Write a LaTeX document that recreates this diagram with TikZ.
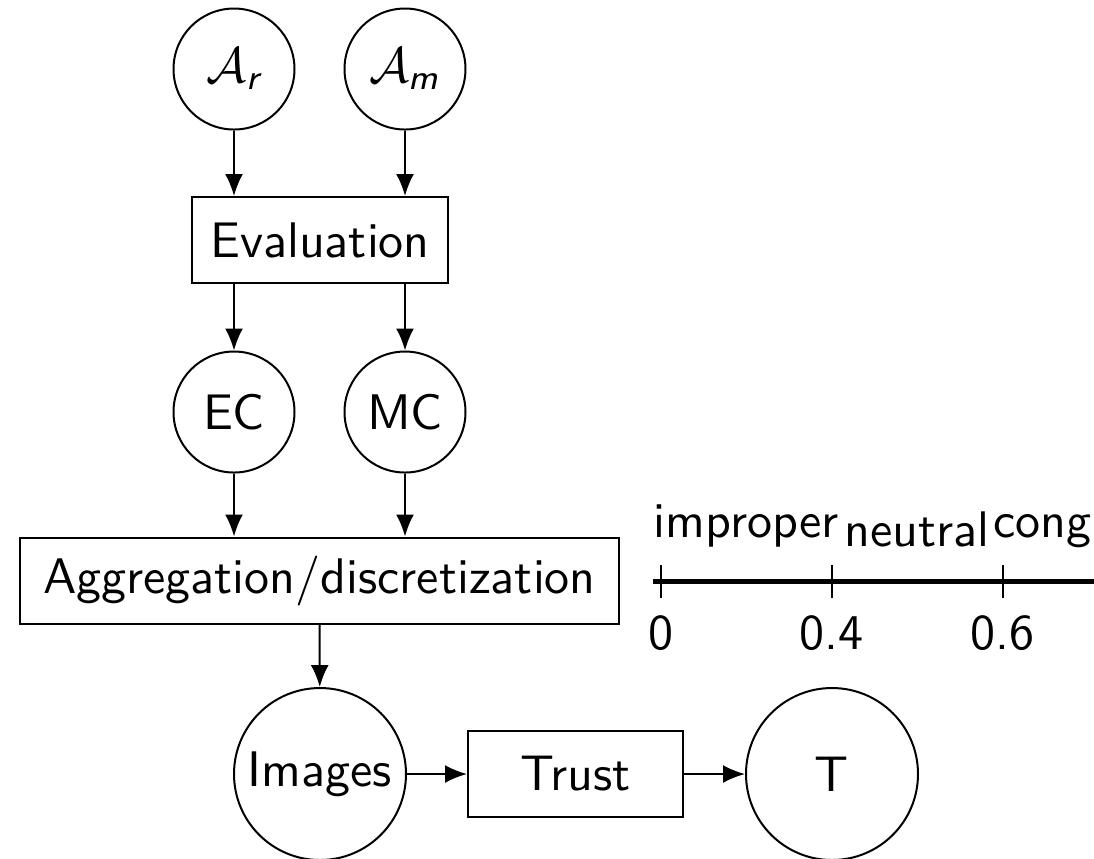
\documentclass[tikz,border=0pt]{standalone}
\usepackage{amsmath}
\usetikzlibrary{arrows.meta,calc}
\begin{document}
\begin{tikzpicture}[x=0.2pt,y=-0.2pt,
  font=\sffamily,
  var/.style={draw,circle,minimum size=24.2pt,inner sep=0pt,line width=0.4pt},
  bigvar/.style={draw,circle,minimum size=34.4pt,inner sep=0pt,line width=0.4pt},
  proc/.style={draw,rectangle,minimum height=17.2pt,inner ysep=0pt,line width=0.4pt},
  flow/.style={line width=0.4pt,-{Latex[length=4.4pt,width=3.6pt]}},
  axisline/.style={line width=1pt},
  tickmark/.style={line width=0.4pt},
  ticklabel/.style={anchor=north},
  classlabel/.style={anchor=south},
]
\clip (0,0) rectangle (1094,858);

% inputs
\node[var] (Ar) at (234,69) {$\mathcal{A}_{\textit{r}}$};
\node[var] (Am) at (405,69) {$\mathcal{A}_{\textit{m}}$};

% evaluation step
\node[proc,minimum width=51.2pt] (Eval) at (320,240) {Evaluation};

% criteria
\node[var] (EC) at (234,412) {EC};
\node[var] (MC) at (405,412) {MC};

% aggregation step
\node[proc,minimum width=119.6pt] (Agg) at (319.5,580.5) {Aggregation/discretization};

% bottom row
\node[bigvar] (Img) at (320,774) {Images};
\node[proc,minimum width=43pt] (Trust) at (575.5,774) {Trust};
\node[bigvar] (T) at (832,774) {T};

% connectors
\draw[flow] (Ar) -- (Ar |- Eval.north);
\draw[flow] (Am) -- (Am |- Eval.north);
\draw[flow] (EC |- Eval.south) -- (EC);
\draw[flow] (MC |- Eval.south) -- (MC);
\draw[flow] (EC) -- (EC |- Agg.north);
\draw[flow] (MC) -- (MC |- Agg.north);
\draw[flow] (Agg) -- (Img);
\draw[flow] (Img) -- (Trust);
\draw[flow] (Trust) -- (T);

% discretization scale
\coordinate (axL) at (653,581.7);
\coordinate (axR) at (1100,581.7);
\coordinate (t0) at (661,581.7);
\coordinate (t1) at (831.7,581.7);
\coordinate (t2) at (1002.7,581.7);
\coordinate (tEnd) at (1191,581.7);
\draw[axisline] (axL) -- (axR);
\foreach \t in {t0,t1,t2}{
  \draw[tickmark] ([yshift=3.3pt]\t) -- ([yshift=-3.3pt]\t);
}
\node[ticklabel] (v0) at ([yshift=-3.3pt]t0) {0};
\node[ticklabel] (v1) at ([yshift=-3.3pt]t1) {0.4};
\node[ticklabel] (v2) at ([yshift=-3.3pt]t2) {0.6};

\node[classlabel] (c0) at ($(t0)!0.5!(t1)+(0,-16.6)$) {improper};
\node[classlabel] (c1) at ($(t1)!0.5!(t2)+(0,-16.6)$) {neutral};
\node[classlabel] (c2) at ($(t2)!0.5!(tEnd)+(0,-16.6)$) {congruent};
\end{tikzpicture}
\end{document}
